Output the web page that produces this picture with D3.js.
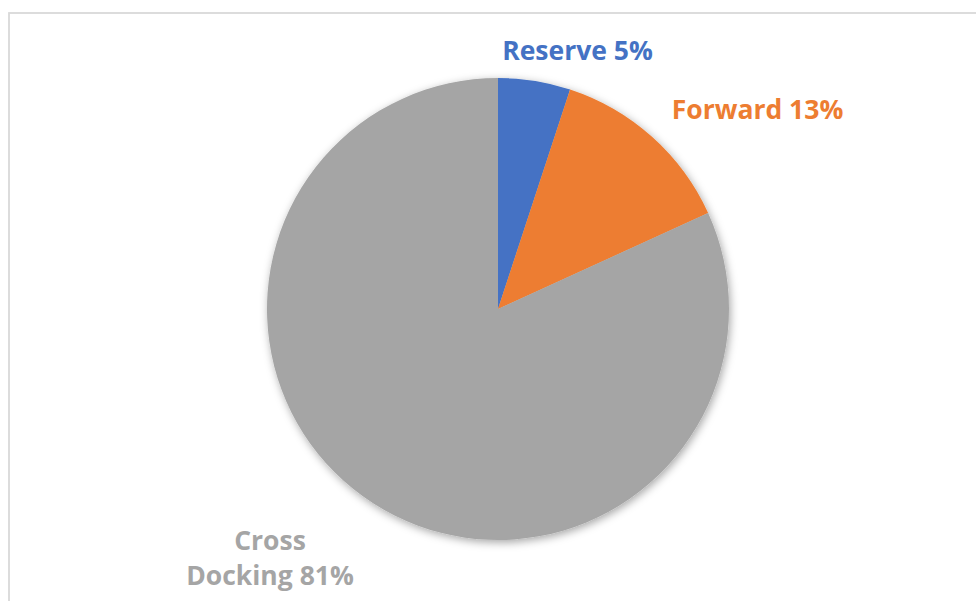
<!DOCTYPE html>
<html>
<head>
<meta charset="utf-8">
<script src="https://cdn.jsdelivr.net/npm/d3@7"></script>
<style>
  html, body { margin: 0; padding: 0; background: #ffffff; }
  svg { display: block; }
  .label { font-family: "Open Sans", "Noto Sans", sans-serif; font-weight: 700; }
</style>
</head>
<body>
<svg id="chart" width="976" height="601"></svg>
<script>
// Storage share by zone
const categories = ["Reserve", "Forward", "Cross Docking"];
const values = [5, 13, 81];
const labelLines = [["Reserve 5%"], ["Forward 13%"], ["Cross", "Docking 81%"]];

const colors = ["#4472C4", "#ED7D31", "#A5A5A5"];

const width = 976, height = 601;
const cx = 498, cy = 309, radius = 231;

const svg = d3.select("#chart");

// chart frame
svg.append("rect")
  .attr("x", 9).attr("y", 13)
  .attr("width", width + 20).attr("height", height + 20)
  .attr("fill", "none")
  .attr("stroke", "#d9d9d9")
  .attr("stroke-width", 1.8);

// soft drop shadow under the pie
const defs = svg.append("defs");
const filt = defs.append("filter").attr("id", "pieShadow")
  .attr("x", "-20%").attr("y", "-20%").attr("width", "140%").attr("height", "140%");
filt.append("feDropShadow")
  .attr("dx", 1.5).attr("dy", 2.5)
  .attr("stdDeviation", 4)
  .attr("flood-color", "#000").attr("flood-opacity", 0.35);

const color = d3.scaleOrdinal().domain(categories).range(colors);

const pie = d3.pie().sort(null).value(d => d.value);
const data = categories.map((c, i) => ({ category: c, value: values[i], lines: labelLines[i] }));
const arcs = pie(data);

const arc = d3.arc().innerRadius(0).outerRadius(radius);

const g = svg.append("g").attr("transform", `translate(${cx},${cy})`);

g.append("g").attr("filter", "url(#pieShadow)")
  .selectAll("path")
  .data(arcs)
  .join("path")
  .attr("d", arc)
  .attr("fill", d => color(d.data.category));

// outside-end label placement per slice (offset from the pie centre)
const labelOffset = {
  "Reserve": [79.5, -249],
  "Forward": [259.5, -190],
  "Cross Docking": [-228, 241]
};
const lineGap = 35;

arcs.forEach(a => {
  const [ox, oy] = labelOffset[a.data.category];
  const t = g.append("text")
    .attr("class", "label")
    .attr("text-anchor", "middle")
    .attr("font-size", 26.5)
    .attr("fill", color(a.data.category));
  a.data.lines.forEach((line, i) => {
    t.append("tspan")
      .attr("x", ox)
      .attr("y", oy + i * lineGap)
      .text(line);
  });
});
</script>
</body>
</html>
